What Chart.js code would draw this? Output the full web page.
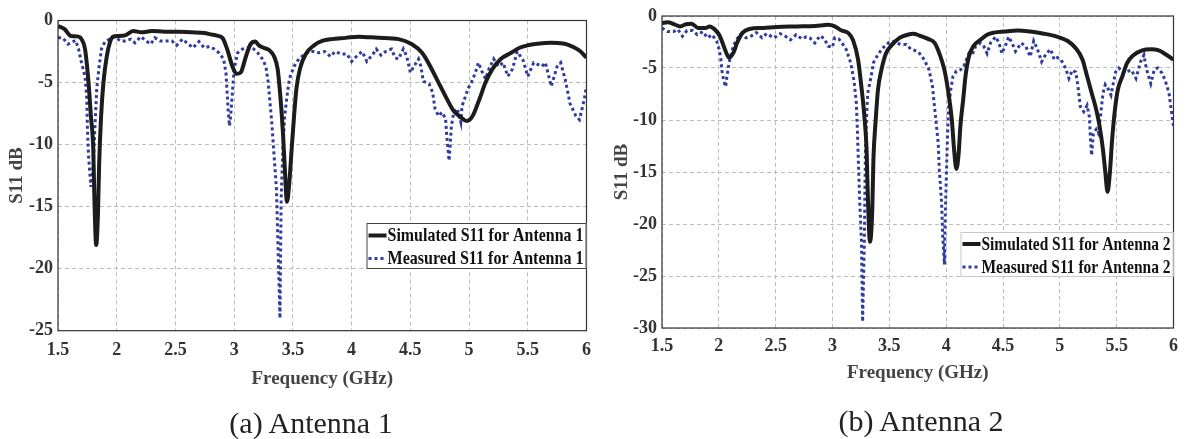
<!DOCTYPE html>
<html>
<head>
<meta charset="utf-8">
<script src="https://cdn.jsdelivr.net/npm/chart.js@4.4.1/dist/chart.umd.min.js"></script>
<style>
  html, body { margin: 0; padding: 0; background: #fff; }
  body { width: 1186px; height: 439px; position: relative; overflow: hidden; }
  .panel { position: absolute; top: 0; height: 439px; }
  .caption {
    position: absolute;
    font-family: 'Liberation Serif', 'Times New Roman', serif;
    font-size: 30px;
    color: #222;
    transform: translate(-50%, -50%);
    white-space: nowrap;
  }
</style>
</head>
<body>
<div class="panel" style="left:0;width:600px"><canvas id="chart1" width="600" height="439"></canvas></div>
<div class="panel" style="left:600px;width:586px"><canvas id="chart2" width="586" height="439"></canvas></div>
<div class="caption" id="cap1" style="left:311px;top:423px"></div>
<div class="caption" id="cap2" style="left:921px;top:421px"></div>
<script>
// ---- data ----
const freqTicks = [1.5, 2, 2.5, 3, 3.5, 4, 4.5, 5, 5.5, 6];
const dbTicks1 = [0, -5, -10, -15, -20, -25];
const dbTicks2 = [0, -5, -10, -15, -20, -25, -30];
const captions = ['(a) Antenna 1', '(b) Antenna 2'];
const labels1 = ['Simulated S11 for Antenna 1', 'Measured S11 for Antenna 1'];
const labels2 = ['Simulated S11 for Antenna 2', 'Measured S11 for Antenna 2'];

// Antenna 1 - simulated
const freqSim1 = [1.5, 1.556, 1.61, 1.675, 1.70, 1.73, 1.76, 1.78, 1.80, 1.81, 1.825, 1.84, 1.85, 1.867, 1.887, 1.915, 1.944, 1.97, 2.01, 2.07, 2.14, 2.21, 2.30, 2.41, 2.52, 2.64, 2.75, 2.79, 2.845, 2.90, 2.94, 2.985, 3.02, 3.055, 3.10, 3.14, 3.18, 3.21, 3.25, 3.30, 3.34, 3.37, 3.395, 3.415, 3.43, 3.45, 3.47, 3.49, 3.51, 3.53, 3.56, 3.61, 3.68, 3.75, 3.83, 3.95, 4.06, 4.23, 4.40, 4.51, 4.60, 4.67, 4.74, 4.81, 4.87, 4.93, 4.98, 5.03, 5.09, 5.14, 5.20, 5.27, 5.36, 5.43, 5.5, 5.6, 5.7, 5.8, 5.9, 5.95, 6.0];
const s11Sim1 = [-0.45, -0.7, -1.25, -1.3, -1.5, -2.3, -5, -7.7, -10.3, -14.4, -18.1, -15.7, -11.7, -7.7, -5, -2.9, -1.7, -1.3, -1.25, -1.2, -0.85, -0.95, -0.85, -0.9, -0.9, -0.95, -1.0, -1.1, -1.2, -1.4, -2.3, -3.7, -4.3, -4.2, -2.9, -1.9, -1.7, -2.0, -2.2, -2.4, -2.9, -3.9, -6.3, -9.0, -11.7, -14.6, -13.0, -10.3, -7.7, -5.5, -3.9, -2.7, -2.0, -1.65, -1.5, -1.4, -1.3, -1.4, -1.5, -1.9, -2.6, -3.7, -5.0, -6.3, -7.3, -7.8, -8.1, -7.7, -6.3, -5.0, -3.9, -3.1, -2.6, -2.2, -2.0, -1.85, -1.8, -1.85, -2.2, -2.5, -3.0];

// Antenna 1 - measured
const freqMeas1 = [1.5, 1.54, 1.585, 1.65, 1.675, 1.70, 1.73, 1.745, 1.75, 1.76, 1.775, 1.78, 1.80, 1.815, 1.83, 1.85, 1.87, 1.90, 1.94, 1.985, 2.03, 2.07, 2.12, 2.155, 2.205, 2.245, 2.29, 2.325, 2.37, 2.42, 2.47, 2.51, 2.56, 2.61, 2.65, 2.70, 2.745, 2.79, 2.83, 2.87, 2.91, 2.93, 2.94, 2.95, 2.96, 2.97, 2.985, 3.0, 3.03, 3.07, 3.11, 3.155, 3.20, 3.24, 3.27, 3.29, 3.305, 3.32, 3.34, 3.36, 3.37, 3.38, 3.39, 3.40, 3.415, 3.43, 3.45, 3.47, 3.51, 3.55, 3.59, 3.64, 3.68, 3.72, 3.77, 3.82, 3.86, 3.91, 3.96, 4.0, 4.05, 4.09, 4.13, 4.19, 4.21, 4.25, 4.29, 4.34, 4.37, 4.40, 4.44, 4.47, 4.50, 4.53, 4.57, 4.59, 4.61, 4.66, 4.69, 4.71, 4.74, 4.77, 4.80, 4.81, 4.83, 4.85, 4.87, 4.90, 4.93, 4.94, 4.97, 4.99, 5.02, 5.05, 5.08, 5.11, 5.14, 5.17, 5.21, 5.25, 5.29, 5.33, 5.37, 5.41, 5.46, 5.5, 5.55, 5.62, 5.65, 5.70, 5.75, 5.78, 5.82, 5.86, 5.91, 5.94, 5.98, 6.0];
const s11Meas1 = [-1.4, -1.4, -1.9, -1.6, -2.3, -3.4, -4.5, -6.3, -8.5, -10.9, -12.8, -13.4, -11.7, -8.5, -5.5, -3.7, -2.3, -1.7, -1.5, -1.3, -1.65, -1.65, -1.5, -1.8, -1.3, -1.6, -1.9, -1.4, -1.65, -1.65, -1.65, -2.0, -1.5, -1.9, -2.2, -1.7, -2.2, -2.1, -2.3, -2.6, -3.1, -4.2, -5.8, -7.4, -8.5, -7.7, -5.8, -3.9, -2.6, -2.3, -2.2, -2.2, -2.6, -3.1, -3.7, -5.0, -6.6, -8.2, -10.9, -13.6, -17.0, -20.5, -24.0, -14.4, -10.3, -7.7, -6.1, -4.7, -3.7, -3.1, -2.8, -2.5, -2.5, -2.6, -2.5, -2.9, -2.5, -2.7, -2.7, -3.3, -2.8, -2.5, -3.3, -2.6, -2.3, -2.8, -2.5, -2.3, -3.0, -3.1, -2.3, -2.9, -4.2, -3.7, -3.1, -3.7, -4.9, -5.1, -5.8, -7.1, -7.7, -7.4, -7.9, -9.3, -11.3, -8.5, -7.4, -7.1, -8.2, -6.9, -6.1, -5.5, -5.0, -4.3, -3.4, -4.1, -4.7, -3.9, -3.1, -3.7, -3.4, -4.5, -3.9, -2.5, -3.2, -4.5, -3.4, -3.7, -3.4, -5.3, -3.7, -3.4, -4.8, -6.7, -7.7, -8.0, -6.4, -5.3];

// Antenna 2 - simulated
const freqSim2 = [1.5, 1.55, 1.61, 1.66, 1.71, 1.76, 1.82, 1.88, 1.92, 1.965, 2.01, 2.05, 2.09, 2.13, 2.16, 2.21, 2.27, 2.39, 2.51, 2.685, 2.85, 2.96, 3.02, 3.08, 3.14, 3.18, 3.225, 3.25, 3.28, 3.30, 3.31, 3.33, 3.35, 3.36, 3.38, 3.40, 3.43, 3.47, 3.52, 3.59, 3.66, 3.71, 3.77, 3.84, 3.90, 3.94, 3.985, 4.02, 4.05, 4.07, 4.09, 4.11, 4.125, 4.15, 4.17, 4.2, 4.24, 4.30, 4.36, 4.42, 4.51, 4.63, 4.74, 4.86, 4.98, 5.07, 5.14, 5.20, 5.24, 5.28, 5.32, 5.35, 5.38, 5.40, 5.42, 5.44, 5.46, 5.485, 5.51, 5.55, 5.59, 5.65, 5.725, 5.80, 5.87, 5.94, 6.0];
const s11Sim2 = [-0.67, -0.6, -0.8, -1.0, -0.8, -0.75, -1.15, -1.15, -1.0, -1.3, -1.95, -3.1, -4.0, -3.5, -2.6, -1.6, -1.25, -1.15, -1.05, -1.0, -0.95, -0.85, -1.0, -1.4, -1.65, -2.3, -4.2, -6.4, -9.6, -12.9, -17.0, -21.7, -18.6, -13.8, -10.0, -7.1, -5.2, -3.6, -2.8, -2.1, -1.8, -1.7, -1.9, -2.2, -2.6, -3.6, -5.2, -7.4, -10.0, -12.9, -14.7, -13.2, -10.6, -8.0, -5.8, -3.9, -2.9, -2.3, -1.8, -1.6, -1.5, -1.4, -1.5, -1.7, -2.0, -2.4, -3.1, -4.2, -5.8, -7.4, -9.0, -10.6, -12.9, -15.0, -16.9, -15.1, -11.9, -9.0, -7.1, -5.8, -4.55, -3.75, -3.3, -3.2, -3.3, -3.75, -4.2];

// Antenna 2 - measured
const freqMeas2 = [1.5, 1.55, 1.60, 1.64, 1.68, 1.72, 1.77, 1.81, 1.86, 1.90, 1.94, 1.98, 2.0, 2.015, 2.03, 2.045, 2.06, 2.07, 2.09, 2.11, 2.13, 2.16, 2.2, 2.24, 2.29, 2.33, 2.38, 2.42, 2.485, 2.54, 2.58, 2.63, 2.68, 2.73, 2.77, 2.80, 2.845, 2.89, 2.93, 2.96, 3.0, 3.02, 3.055, 3.09, 3.12, 3.16, 3.19, 3.21, 3.22, 3.23, 3.24, 3.255, 3.26, 3.265, 3.28, 3.285, 3.29, 3.30, 3.31, 3.34, 3.36, 3.39, 3.42, 3.45, 3.49, 3.52, 3.56, 3.61, 3.65, 3.69, 3.75, 3.79, 3.82, 3.85, 3.88, 3.90, 3.93, 3.94, 3.96, 3.97, 3.985, 3.99, 4.0, 4.01, 4.02, 4.04, 4.06, 4.09, 4.12, 4.15, 4.17, 4.2, 4.23, 4.26, 4.30, 4.33, 4.36, 4.39, 4.435, 4.465, 4.49, 4.52, 4.55, 4.58, 4.61, 4.66, 4.70, 4.74, 4.77, 4.80, 4.84, 4.88, 4.92, 4.95, 4.98, 5.01, 5.05, 5.08, 5.11, 5.14, 5.16, 5.18, 5.21, 5.24, 5.26, 5.27, 5.28, 5.295, 5.32, 5.34, 5.36, 5.38, 5.40, 5.43, 5.45, 5.47, 5.49, 5.52, 5.56, 5.59, 5.63, 5.67, 5.71, 5.74, 5.76, 5.80, 5.83, 5.86, 5.90, 5.93, 5.96, 5.98, 6.0];
const s11Meas2 = [-1.15, -1.5, -1.5, -1.3, -1.95, -1.4, -1.4, -1.8, -1.5, -2.1, -1.8, -2.4, -3.1, -3.9, -5.5, -6.3, -6.8, -5.9, -4.5, -3.6, -2.8, -2.2, -1.7, -2.1, -1.9, -1.6, -2.1, -1.7, -2.1, -1.7, -1.9, -2.3, -1.8, -2.2, -2.0, -2.1, -2.6, -1.9, -2.2, -2.9, -3.0, -2.1, -2.2, -2.7, -3.2, -4.5, -6.3, -8.4, -11.3, -14.8, -18.0, -21.8, -25.7, -29.4, -21.8, -17.0, -12.9, -9.6, -7.4, -5.8, -4.5, -3.9, -3.4, -3.0, -2.6, -2.4, -2.6, -2.75, -2.75, -3.2, -3.4, -3.9, -4.5, -5.2, -6.8, -9.0, -12.2, -14.8, -18.0, -21.2, -23.9, -19.9, -16.1, -12.2, -9.0, -7.1, -5.8, -5.3, -5.2, -5.0, -4.4, -3.6, -3.7, -2.9, -2.6, -2.9, -3.6, -2.6, -2.0, -2.6, -3.6, -2.9, -2.0, -2.6, -3.4, -2.6, -2.9, -3.9, -2.4, -3.1, -4.4, -3.6, -3.2, -4.2, -4.0, -4.2, -5.0, -6.0, -5.2, -5.4, -6.8, -8.7, -9.2, -8.6, -9.7, -11.9, -13.4, -11.3, -10.9, -11.3, -9.4, -7.4, -6.6, -7.1, -7.6, -6.5, -5.4, -5.0, -5.5, -5.35, -5.2, -6.0, -4.4, -3.75, -5.0, -6.5, -5.2, -5.0, -5.5, -6.3, -7.4, -9.0, -10.6];

// ---- shared styling ----
const serif = "'Liberation Serif', 'Times New Roman', serif";
Chart.defaults.font.family = serif;

// Box round the plot area, MATLAB style
const framePlugin = {
    id: 'frame',
    afterDatasetsDraw(chart) {
        const { ctx, chartArea: a } = chart;
        ctx.save();
        ctx.strokeStyle = '#333';
        ctx.lineWidth = 1.2;
        ctx.strokeRect(a.left, a.top, a.right - a.left, a.bottom - a.top);
        ctx.restore();
    }
};

// Legend drawn inside the plot, against the right edge
const legendBoxPlugin = {
    id: 'legendBox',
    afterDraw(chart, args, opts) {
        const { ctx, chartArea: a } = chart;
        const x = a.right - opts.width;
        const y = opts.top;
        ctx.save();
        ctx.fillStyle = '#fff';
        ctx.fillRect(x, y, opts.width, opts.height);
        ctx.strokeStyle = opts.borderColor;
        ctx.lineWidth = 1;
        ctx.strokeRect(x + 0.5, y + 0.5, opts.width - 1, opts.height - 1);

        ctx.font = 'bold 19px ' + serif;
        chart.data.datasets.forEach(function (ds, i) {
            const rowY = y + opts.rows[i];
            // line sample
            ctx.beginPath();
            ctx.setLineDash(ds.borderDash || []);
            ctx.strokeStyle = ds.borderColor;
            ctx.lineWidth = ds.borderWidth;
            ctx.moveTo(x + 2, rowY);
            ctx.lineTo(x + 20, rowY);
            ctx.stroke();
            ctx.setLineDash([]);
            // label, squeezed a little like the original condensed font
            const room = opts.width - 24;
            const w = ctx.measureText(ds.label).width;
            const sx = Math.min(1, room / w);
            ctx.save();
            ctx.translate(x + 21, rowY);
            ctx.scale(sx, 1);
            ctx.fillStyle = '#111';
            ctx.textBaseline = 'middle';
            ctx.fillText(ds.label, 0, 1);
            ctx.restore();
        });
        ctx.restore();
    }
};

function toPoints(xs, ys) {
    return xs.map(function (x, i) { return { x: x, y: ys[i] }; });
}

function makeChart(id, sim, meas, labels, yTicks, layout) {
    const tickFont = { size: 18, weight: 'bold', family: serif };
    const titleFont = { size: 19, weight: 'bold', family: serif };
    return new Chart(document.getElementById(id), {
        type: 'line',
        data: {
            datasets: [{
                label: labels[0],
                data: toPoints(sim[0], sim[1]),
                borderColor: '#1c1c1c',
                borderWidth: 4,
                pointRadius: 0,
                cubicInterpolationMode: 'monotone'
            }, {
                label: labels[1],
                data: toPoints(meas[0], meas[1]),
                borderColor: '#2f3c9e',
                borderWidth: 3,
                borderDash: [3, 3],
                pointRadius: 0,
                tension: 0
            }]
        },
        options: {
            responsive: false,
            animation: false,
            events: [],
            layout: { padding: layout.padding },
            plugins: {
                legend: { display: false },
                tooltip: { enabled: false },
                legendBox: layout.legend
            },
            scales: {
                x: {
                    type: 'linear',
                    min: freqTicks[0],
                    max: freqTicks[freqTicks.length - 1],
                    afterBuildTicks: function (s) { s.ticks = freqTicks.map(function (v) { return { value: v }; }); },
                    afterFit: function (s) { s.height = layout.xHeight; },
                    ticks: {
                        font: tickFont, color: '#333', padding: layout.xTickPad, maxRotation: 0, autoSkip: false,
                        callback: function (v) { return String(v); }
                    },
                    grid: { color: '#bdbdbd', lineWidth: 1, drawTicks: false },
                    border: { display: false, dash: [4, 3] },
                    title: { display: true, text: 'Frequency (GHz)', font: titleFont, color: '#444', padding: { top: 0, bottom: layout.xTitlePad } }
                },
                y: {
                    min: yTicks[yTicks.length - 1],
                    max: yTicks[0],
                    afterBuildTicks: function (s) { s.ticks = yTicks.map(function (v) { return { value: v }; }); },
                    afterFit: function (s) { s.width = layout.yWidth; },
                    ticks: {
                        font: tickFont, color: '#333', padding: 5, autoSkip: false,
                        callback: function (v) { return String(v); }
                    },
                    grid: { color: '#bdbdbd', lineWidth: 1, drawTicks: false },
                    border: { display: false, dash: [4, 3] },
                    title: { display: true, text: 'S11 dB', font: titleFont, color: '#444', padding: { top: layout.yTitlePad, bottom: 0 } }
                }
            }
        },
        plugins: [framePlugin, legendBoxPlugin]
    });
}

document.addEventListener('DOMContentLoaded', function () {
    document.getElementById('cap1').textContent = captions[0];
    document.getElementById('cap2').textContent = captions[1];

    makeChart('chart1', [freqSim1, s11Sim1], [freqMeas1, s11Meas1], labels1, dbTicks1, {
        padding: { top: 20.5, right: 12.5, left: 0, bottom: 0 },
        yWidth: 58, xHeight: 108.3, xTickPad: 9, xTitlePad: 48.6, yTitlePad: 5.6,
        legend: { top: 223, width: 220, height: 46, rows: [12.5, 35.5], borderColor: '#444' }
    });

    makeChart('chart2', [freqSim2, s11Sim2], [freqMeas2, s11Meas2], labels2, dbTicks2, {
        padding: { top: 16, right: 11.3, left: 0, bottom: 0 },
        yWidth: 62, xHeight: 111, xTickPad: 8, xTitlePad: 54.6, yTitlePad: 10.6,
        legend: { top: 232, width: 213, height: 45, rows: [12, 35], borderColor: '#c8c8c8' }
    });
});
</script>
</body>
</html>
